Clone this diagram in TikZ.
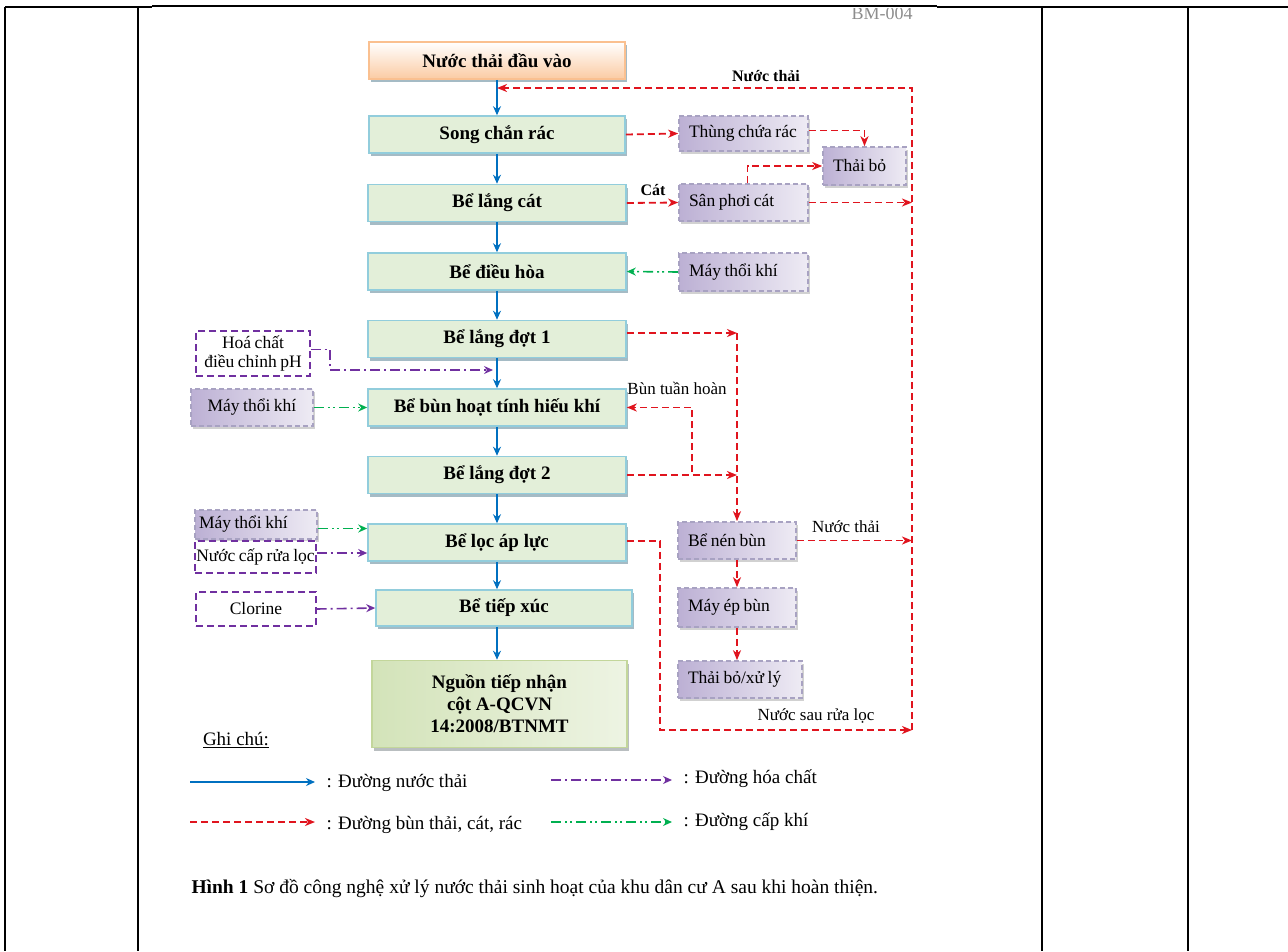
\documentclass[tikz,border=0pt]{standalone}
\usepackage{fontspec}
\setmainfont{Liberation Serif}
\newfontfamily\sidefont[WordSpace=0.8]{Liberation Serif}
\usetikzlibrary{arrows.meta,shadows}

\definecolor{mainfill}{HTML}{E3EFD9}
\definecolor{mainline}{HTML}{92CDDC}
\definecolor{mainshadow}{HTML}{8FAAB6}
\definecolor{inline}{HTML}{FAC090}
\definecolor{infill}{HTML}{FBCBA3}
\definecolor{outline}{HTML}{C3D69B}
\definecolor{outfill}{HTML}{D3E3B9}
\definecolor{sidedark}{HTML}{BCB0D4}
\definecolor{sidelight}{HTML}{EEEBF4}
\definecolor{sideline}{HTML}{A8A2C2}
\definecolor{chemline}{HTML}{7030A0}
\definecolor{sludgeline}{HTML}{E0141E}
\definecolor{waterline}{HTML}{0070C0}
\definecolor{airline}{HTML}{00B050}

\tikzset{
  mainbox/.style={draw=mainline, line width=1.6pt, fill=mainfill,
    minimum width=258pt, minimum height=37pt,
    font=\fontsize{19}{22}\selectfont\bfseries,
    drop shadow={shadow xshift=2pt, shadow yshift=-3pt, fill=mainshadow, opacity=.8}},
  sidebox/.style={draw=sideline, line width=1.6pt, dash pattern=on 5pt off 3pt,
    left color=sidedark, right color=sidelight,
    minimum height=37pt, inner xsep=10pt, align=flush left, text width=#1,
    font=\sidefont\fontsize{17.5}{19}\selectfont,
    drop shadow={shadow xshift=1.5pt, shadow yshift=-2.5pt, fill=black!30, opacity=.6}},
  plainbox/.style={draw=chemline, line width=1.4pt, dash pattern=on 7pt off 4pt, fill=white,
    align=flush center, font=\sidefont\fontsize{17.5}{19}\selectfont},
  water/.style={draw=waterline, line width=1.3pt, -{Stealth[length=9pt,width=8pt]}},
  sludge/.style={draw=sludgeline, line width=1.8pt, dash pattern=on 7pt off 4pt,
    -{Stealth[length=10pt,width=8pt,inset=3pt]}},
  chem/.style={draw=chemline, line width=1.6pt, dash pattern=on 10pt off 4pt on 2pt off 4pt,
    -{Stealth[length=9pt,width=8pt,inset=3pt]}},
  air/.style={draw=airline, line width=1.6pt,
    dash pattern=on 10pt off 4pt on 2pt off 3pt on 2pt off 4pt,
    -{Stealth[length=9pt,width=8pt,inset=3pt]}},
  tag/.style={font=\fontsize{17}{19}\selectfont},
  legend/.style={anchor=west, font=\fontsize{19}{22}\selectfont},
}

\begin{document}
\begin{tikzpicture}[x=1pt,y=-1pt]
  \useasboundingbox (0,0) rectangle (1288,951);

  % table frame
  \draw[line width=2.5pt] (5,7) -- (152,7);
  \draw[line width=1.5pt] (152,6) -- (937,6);
  \draw[line width=2.5pt] (937,7) -- (1288,7);
  \foreach \xx in {5,138,1042,1188}
    \draw[line width=2.5pt] (\xx,7) -- (\xx,951);
  \begin{scope}
    \clip (800,8) rectangle (950,40);
    \node[text=black!45, font=\fontsize{18}{20}\selectfont] (bm) at (882,14) {BM-004};
  \end{scope}

  % main line
  \node[mainbox, draw=inline, top color=white, bottom color=infill,
    minimum width=256pt] (in) at (497,60.5) {Nước thải đầu vào};
  \node[mainbox, minimum width=256pt] (song) at (497,134.5) {Song chắn rác};
  \node[mainbox] (langcat) at (497,203) {Bể lắng cát};
  \node[mainbox] (dieuhoa) at (497,271.5) {Bể điều hòa};
  \node[mainbox] (lang1) at (497,339) {Bể lắng đợt 1};
  \node[mainbox] (bun) at (497,407.5) {Bể bùn hoạt tính hiếu khí};
  \node[mainbox] (lang2) at (497,475) {Bể lắng đợt 2};
  \node[mainbox] (loc) at (497,542.5) {Bể lọc áp lực};
  \node[mainbox, minimum width=256pt, minimum height=36pt] (tiepxuc) at (504,608) {Bể tiếp xúc};
  \node[mainbox, draw=outline, left color=outfill, right color=white!60!outfill,
    minimum width=255pt, minimum height=87pt, align=flush center,
    drop shadow={shadow xshift=2pt, shadow yshift=-3pt, fill=black!25, opacity=.8}]
    (nguon) at (499.5,704) {Nguồn tiếp nhận\\cột A-QCVN\\14:2008/BTNMT};

  % right side
  \node[sidebox=109pt, minimum height=35pt] (thung) at (743.5,133.5) {Thùng chứa rác};
  \node[sidebox=63pt, minimum height=38pt] (thaibo) at (864.5,166) {Thải bỏ};
  \node[sidebox=109pt] (sanphoi) at (743.5,202.5) {Sân phơi cát};
  \node[sidebox=109pt, minimum height=38pt] (maythoi1) at (743.5,272) {Máy thổi khí};
  \node[sidebox=98pt] (nen) at (737,540.5) {Bể nén bùn};
  \node[sidebox=98pt, minimum height=39pt] (ep) at (737,607.5) {Máy ép bùn};
  \node[sidebox=104pt] (xuly) at (740,679.5) {Thải bỏ/xử lý};

  % left side
  \node[plainbox, minimum width=114pt, minimum height=45pt, inner sep=1pt] (hoachat) at (253,353.5) {Hoá chất\\điều chỉnh pH};
  \node[sidebox=102pt, align=flush center] (maythoi2) at (252,407.5) {Máy thổi khí};
  \node[sidebox=114pt, inner xsep=4pt, minimum height=29pt] (maythoi3) at (256,524.5) {Máy thổi khí};
  \node[plainbox, minimum width=121pt, minimum height=32pt, inner sep=1pt] (nuoccap) at (255.5,557) {Nước cấp rửa lọc};
  \node[plainbox, minimum width=120pt, minimum height=34pt] (clorine) at (256,609) {Clorine};

  % helper points
  \coordinate (r1) at (912,88);
  \coordinate (r2) at (912,730);
  \coordinate (j1) at (737,333);
  \coordinate (j2) at (692,472);
  \coordinate (k1) at (330,370);
  \coordinate (k2) at (493,370);
  \coordinate (f1) at (660,541);

  % waste water
  \draw[water] (in.south) -- (song.north);
  \draw[water] (song.south) -- (langcat.north);
  \draw[water] (langcat.south) -- (dieuhoa.north);
  \draw[water] (dieuhoa.south) -- (lang1.north);
  \draw[water] (lang1.south) -- (bun.north);
  \draw[water] (bun.south) -- (lang2.north);
  \draw[water] (lang2.south) -- (loc.north);
  \draw[water] (loc.south) -- (loc.south |- tiepxuc.north);
  \draw[water] (loc.south |- tiepxuc.south) -- (loc.south |- nguon.north);

  % sludge, sand, trash
  \draw[sludge] (r2) -- (r1) -- (in.south |- r1);
  \draw[sludge] (song.east) -- (thung.west);
  \draw[sludge] ([yshift=3pt]thung.east) -| (thaibo.north);
  \draw[sludge] ([xshift=4pt]sanphoi.north) |- (thaibo.west);
  \draw[sludge] (langcat.east) -- (sanphoi.west);
  \draw[sludge] (sanphoi.east) -- (sanphoi.east -| r1);
  \draw[sludge] (lang1.east |- j1) -- (j1);
  \draw[sludge] (j1) -- (j1 |- nen.north);
  \draw[sludge] (lang2.east) -- (lang2.east -| j1);
  \draw[sludge] (j2) |- (bun.east);
  \draw[sludge] (nen.east) -- (nen.east -| r1);
  \draw[sludge] (nen.south) -- (ep.north);
  \draw[sludge] (ep.south) -- (ep.south |- xuly.north);
  \draw[sludge] (loc.east |- f1) -- (f1) |- (r2);

  % air
  \draw[air] (maythoi1.west) -- (dieuhoa.east);
  \draw[air] (maythoi2.east) -- (bun.west);
  \draw[air] ([yshift=-4pt]maythoi3.east) -- ([yshift=-4pt]maythoi3.east -| loc.west);
  % chemicals
  \draw[chem] ([yshift=4pt]hoachat.east) -| (k1) -- (k2);
  \draw[chem] ([yshift=4pt]nuoccap.east) -- ([yshift=4pt]nuoccap.east -| loc.west);
  \draw[chem] (clorine.east) -- (tiepxuc.west);

  % labels on lines
  \node[font=\fontsize{16}{18}\selectfont\bfseries] (lbnt) at (766,76) {Nước thải};
  \node[font=\fontsize{16}{18}\selectfont\bfseries] (lbcat) at (653,190) {Cát};
  \node[tag] (lbbun) at (677,388) {Bùn tuần hoàn};
  \node[tag] (lbnt2) at (846,527) {Nước thải};
  \node[tag] (lbrua) at (816,716) {Nước sau rửa lọc};

  % legend
  \node[font=\fontsize{19}{22}\selectfont] (ghichu) at (236,740) {\underline{Ghi chú:}};
  \node[legend] (lg1) at (323,783) {: Đường nước thải};
  \node[legend] (lg2) at (323,825) {: Đường bùn thải, cát, rác};
  \node[legend] (lg3) at (680,779) {: Đường hóa chất};
  \node[legend] (lg4) at (680,822) {: Đường cấp khí};
  \coordinate (g1) at (190,782);
  \coordinate (g2) at (190,822);
  \coordinate (g3) at (551,780);
  \coordinate (g4) at (551,822);
  \draw[water] (g1) -- ([xshift=-8pt]g1 -| lg1.west);
  \draw[sludge] (g2) -- ([xshift=-8pt]g2 -| lg2.west);
  \draw[chem] (g3) -- ([xshift=-8pt]g3 -| lg3.west);
  \draw[air] (g4) -- ([xshift=-8pt]g4 -| lg4.west);

  % caption
  \node[anchor=west, font=\fontsize{19.5}{22}\selectfont] (caption) at (188,889)
    {\textbf{Hình 1} Sơ đồ công nghệ xử lý nước thải sinh hoạt của khu dân cư A sau khi hoàn thiện.};
\end{tikzpicture}
\end{document}
